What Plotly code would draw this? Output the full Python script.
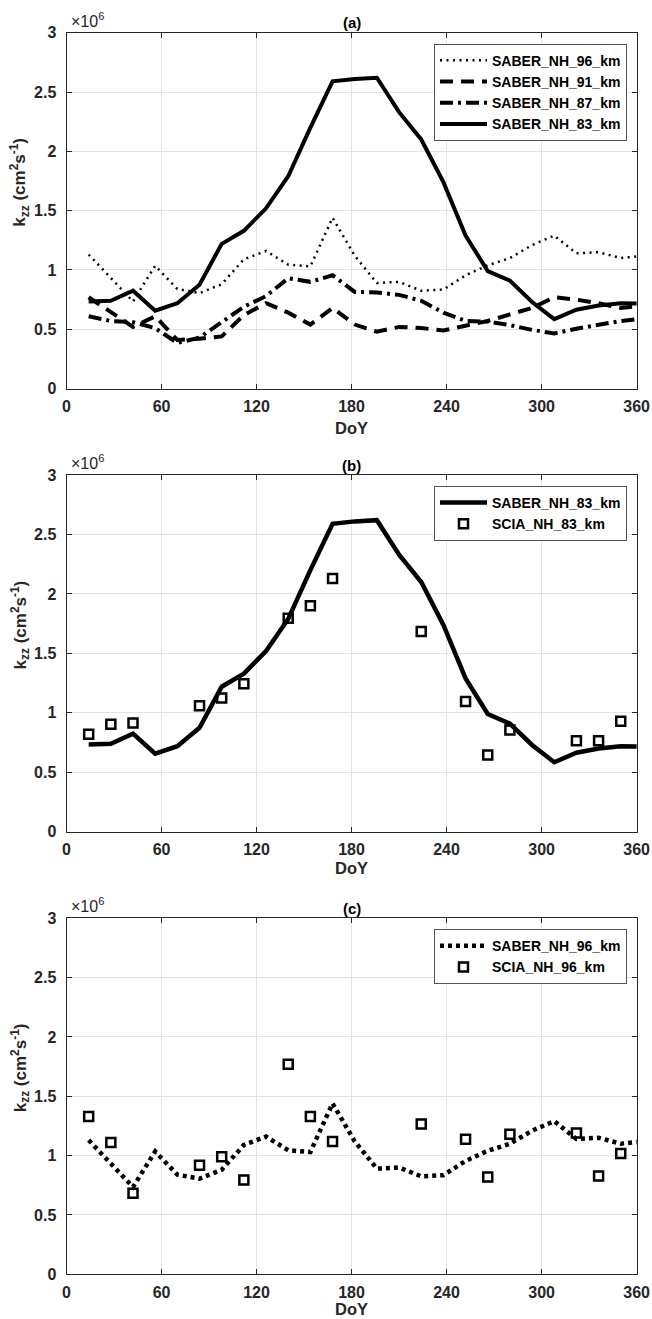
import plotly.graph_objects as go

# ---------------- data (values in units of 10^6 cm^2 s^-1) ----------------
days = [14, 28, 42, 56, 70, 84, 98, 112, 126, 140, 154, 168, 182,
        196, 210, 224, 238, 252, 266, 280, 294, 308, 322, 336, 350, 364]
saber_96 = [1.13, 0.93, 0.735, 1.035, 0.84, 0.805, 0.88, 1.09, 1.16, 1.045, 1.03, 1.44, 1.12,
            0.89, 0.90, 0.825, 0.835, 0.955, 1.04, 1.10, 1.21, 1.29, 1.14, 1.15, 1.10, 1.12]
saber_91 = [0.77, 0.65, 0.52, 0.61, 0.41, 0.42, 0.44, 0.62, 0.72, 0.64, 0.54, 0.68, 0.54,
            0.48, 0.52, 0.51, 0.49, 0.53, 0.57, 0.625, 0.68, 0.77, 0.75, 0.72, 0.68, 0.70]
saber_87 = [0.61, 0.57, 0.56, 0.51, 0.385, 0.43, 0.56, 0.69, 0.78, 0.93, 0.90, 0.955, 0.815,
            0.81, 0.79, 0.74, 0.64, 0.57, 0.565, 0.535, 0.495, 0.465, 0.505, 0.535, 0.57, 0.59]
saber_83 = [0.735, 0.74, 0.825, 0.657, 0.72, 0.875, 1.22, 1.33, 1.52, 1.79, 2.20, 2.59, 2.61,
            2.62, 2.33, 2.10, 1.74, 1.29, 0.99, 0.91, 0.73, 0.585, 0.665, 0.70, 0.72, 0.715]

scia_days = [14, 28, 42, 84, 98, 112, 140, 154, 168, 224, 252, 266, 280, 322, 336, 350]
scia_83 = [0.82, 0.905, 0.915, 1.06, 1.125, 1.245, 1.795, 1.90, 2.13, 1.685, 1.095, 0.645,
           0.855, 0.765, 0.765, 0.93]
scia_96 = [1.33, 1.11, 0.683, 0.918, 0.99, 0.795, 1.77, 1.329, 1.118, 1.267, 1.137, 0.82,
           1.18, 1.191, 0.829, 1.017]

x_ticks = [0, 60, 120, 180, 240, 300, 360]
y_ticks = [0, 0.5, 1, 1.5, 2, 2.5, 3]
y_ticktext = ["0", "0.5", "1", "1.5", "2", "2.5", "3"]
panel_titles = ["(a)", "(b)", "(c)"]

# ---------------- layout geometry ----------------
W, H = 652, 1319
x_left, x_right = 66.5, 636.6
panels_px = [(32.7, 388.6), (475.0, 831.8), (918.2, 1274.3)]
doy_gap = [39, 36, 35]

def py(p):
    return 1 - p / H

def px(p):
    return p / W

FONT = "Liberation Sans, Arial, Helvetica, sans-serif"
AX = "#262626"

fig = go.Figure()

# panel (a)
fig.add_trace(go.Scatter(x=days, y=saber_96, mode="lines", name="SABER_NH_96_km",
                         line=dict(color="black", width=2.5, dash="2px,4.5px"),
                         xaxis="x", yaxis="y", legend="legend"))
fig.add_trace(go.Scatter(x=days, y=saber_91, mode="lines", name="SABER_NH_91_km",
                         line=dict(color="black", width=4, dash="13px,8px"),
                         xaxis="x", yaxis="y", legend="legend"))
fig.add_trace(go.Scatter(x=days, y=saber_87, mode="lines", name="SABER_NH_87_km",
                         line=dict(color="black", width=4, dash="13px,5px,3px,5px"),
                         xaxis="x", yaxis="y", legend="legend"))
fig.add_trace(go.Scatter(x=days, y=saber_83, mode="lines", name="SABER_NH_83_km",
                         line=dict(color="black", width=4),
                         xaxis="x", yaxis="y", legend="legend"))

# panel (b)
fig.add_trace(go.Scatter(x=days, y=saber_83, mode="lines", name="SABER_NH_83_km",
                         line=dict(color="black", width=4.5),
                         xaxis="x2", yaxis="y2", legend="legend2"))
fig.add_trace(go.Scatter(x=scia_days, y=scia_83, mode="markers", name="SCIA_NH_83_km",
                         marker=dict(symbol="square-open", size=9, color="black",
                                     line=dict(color="black", width=2.5)),
                         xaxis="x2", yaxis="y2", legend="legend2"))

# panel (c)
fig.add_trace(go.Scatter(x=days, y=saber_96, mode="lines", name="SABER_NH_96_km",
                         line=dict(color="black", width=4.5, dash="4px,4px"),
                         xaxis="x3", yaxis="y3", legend="legend3"))
fig.add_trace(go.Scatter(x=scia_days, y=scia_96, mode="markers", name="SCIA_NH_96_km",
                         marker=dict(symbol="square-open", size=9, color="black",
                                     line=dict(color="black", width=2.5)),
                         xaxis="x3", yaxis="y3", legend="legend3"))

axis_common = dict(showgrid=True, gridcolor="#e3e3e3", gridwidth=1,
                   showline=True, linecolor=AX, linewidth=1, mirror="ticks",
                   ticks="inside", ticklen=5, tickwidth=1, tickcolor=AX,
                   zeroline=False,
                   tickfont=dict(family=FONT, size=16, color=AX, weight="bold"))

layout = dict(width=W, height=H, margin=dict(l=0, r=0, t=0, b=0),
              paper_bgcolor="white", plot_bgcolor="white",
              font=dict(family=FONT, size=14, color=AX),
              template="none", annotations=[])

x_dom = [px(x_left), px(x_right)]
legend_names = ["legend", "legend2", "legend3"]
for i, (top, bot) in enumerate(panels_px):
    sfx = "" if i == 0 else str(i + 1)
    layout["xaxis" + sfx] = dict(axis_common, domain=x_dom, range=[0, 360],
                                 tickvals=x_ticks, anchor="y" + sfx,
                                 ticklabelstandoff=3)
    layout["yaxis" + sfx] = dict(axis_common, domain=[py(bot), py(top)], range=[0, 3],
                                 tickvals=y_ticks, ticktext=y_ticktext, anchor="x" + sfx,
                                 ticklabelstandoff=6)
    layout[legend_names[i]] = dict(x=px(434), xanchor="left", y=py(top + 11), yanchor="top",
                                   bgcolor="white", bordercolor="#555555", borderwidth=1,
                                   font=dict(family=FONT, size=14, color="black", weight="bold"),
                                   tracegroupgap=0, itemwidth=47)
    cx = px((x_left + x_right) / 2)
    layout["annotations"] += [
        dict(text=panel_titles[i], x=cx, y=py(top - 10), xref="paper", yref="paper",
             xanchor="center", yanchor="middle", showarrow=False,
             font=dict(family=FONT, size=15, color="black", weight="bold")),
        dict(text="DoY", x=cx, y=py(bot + doy_gap[i]), xref="paper", yref="paper",
             xanchor="center", yanchor="middle", showarrow=False,
             font=dict(family=FONT, size=16.5, color=AX, weight="bold")),
        dict(text="k<sub>zz</sub> (cm<sup>2</sup>s<sup>-1</sup>)", x=px(20),
             y=py((top + bot) / 2 - 28), xref="paper", yref="paper",
             xanchor="center", yanchor="middle", textangle=-90, showarrow=False,
             font=dict(family=FONT, size=17, color=AX, weight="bold")),
        dict(text="\u00d710<sup>6</sup>", x=px(69), y=py(top - 1), xref="paper", yref="paper",
             xanchor="left", yanchor="bottom", showarrow=False,
             font=dict(family=FONT, size=16, color=AX)),
    ]

fig.update_layout(**layout)
fig.write_html("out.html",
               config={"displayModeBar": False},
               post_script="document.body.style.margin='0';"
                           "document.body.style.overflow='hidden';")
